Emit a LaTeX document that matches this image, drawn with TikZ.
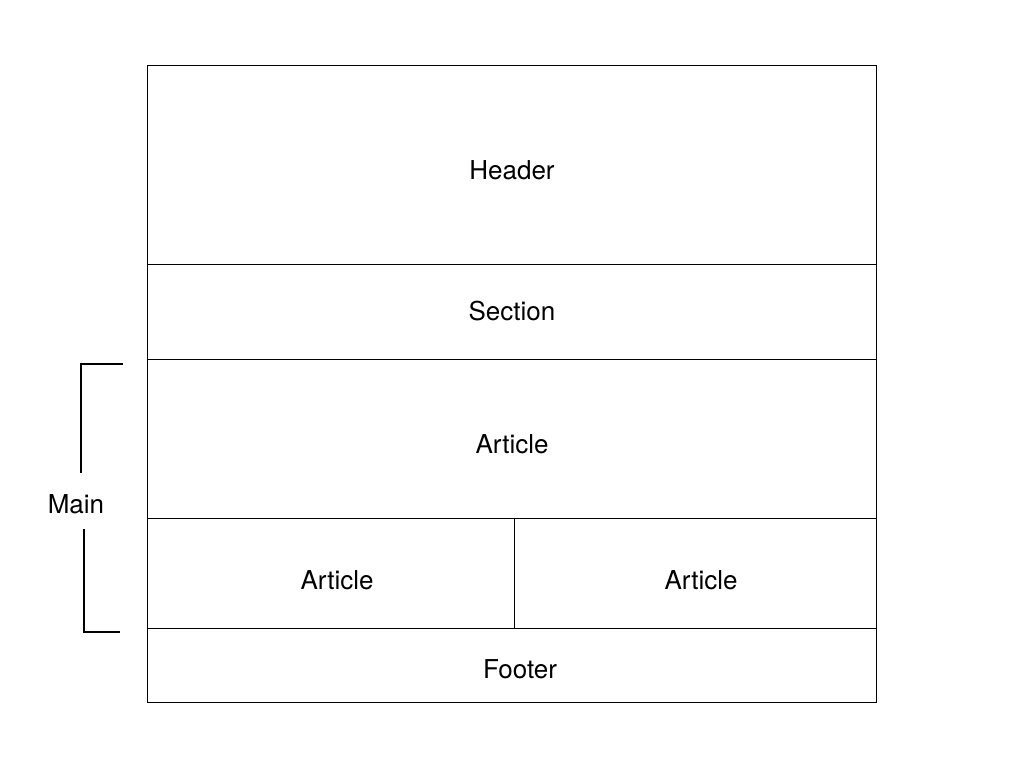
\documentclass[tikz,border=0pt]{standalone}
\usepackage{fontspec}
\setmainfont{TeX Gyre Heros}
\begin{document}
\begin{tikzpicture}[x=1pt,y=-1pt,
  box/.style={draw=black,line width=1pt,inner sep=0pt,outer sep=0pt},
  lbl/.style={font=\fontsize{26}{30}\selectfont,inner sep=0pt},
  brk/.style={draw=black,line width=2pt}]
\fill[white] (0,0) rectangle (1024,768);
\useasboundingbox (0,0) rectangle (1024,768);
\node[box,minimum width=729pt,minimum height=199pt] (header) at (511.5,164.5) {};
\node[box,minimum width=729pt,minimum height=95pt] (section) at (511.5,311.5) {};
\node[box,minimum width=729pt,minimum height=159pt] (article) at (511.5,438.5) {};
\node[box,minimum width=367pt,minimum height=110pt] (articleL) at (330.5,573) {};
\node[box,minimum width=362pt,minimum height=110pt] (articleR) at (695,573) {};
\node[box,minimum width=729pt,minimum height=74pt] (footer) at (511.5,665) {};
\node[lbl] (tH) at (512,170) {Header};
\node[lbl] (tS) at (512,311) {Section};
\node[lbl] (tA) at (512,444) {Article};
\node[lbl] (tAL) at (337,580) {Article};
\node[lbl] (tAR) at (701,580) {Article};
\node[lbl] (tF) at (520,669) {Footer};
\node[lbl] (main) at (76,504) {Main};
\coordinate (b1) at (123,364);
\coordinate (b2) at (81,364);
\coordinate (b3) at (81,473);
\coordinate (b4) at (84,529);
\coordinate (b5) at (84,632);
\coordinate (b6) at (120,632);
\draw[brk] (b1) -- (b2) -- (b3);
\draw[brk] (b4) -- (b5) -- (b6);
\end{tikzpicture}
\end{document}
